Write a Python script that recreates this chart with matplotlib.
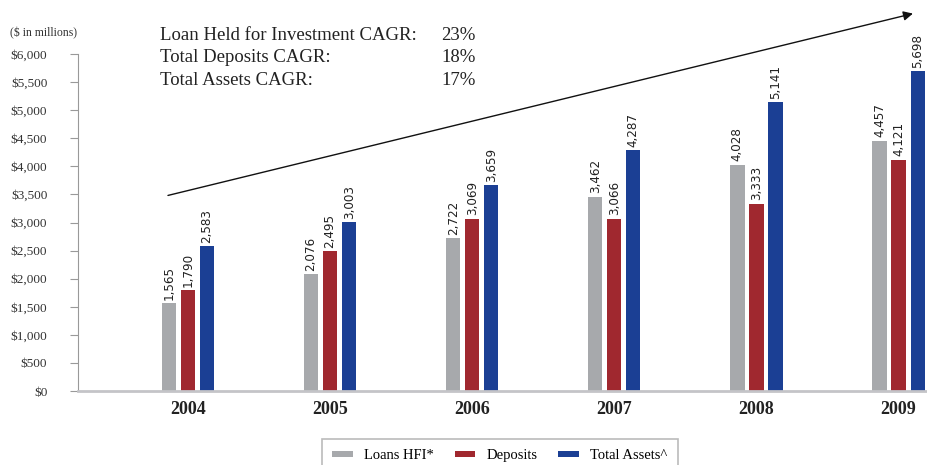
import matplotlib.pyplot as plt
import numpy as np

# Chart data ($ in millions)
years = ["2004", "2005", "2006", "2007", "2008", "2009"]
loans_hfi = [1565, 2076, 2722, 3462, 4028, 4457]
deposits = [1790, 2495, 3069, 3066, 3333, 4121]
total_assets = [2583, 3003, 3659, 4287, 5141, 5698]

cagr_labels = ["Loan Held for Investment CAGR:", "Total Deposits CAGR:", "Total Assets CAGR:"]
cagr_values = ["23%", "18%", "17%"]

series = [
    ("Loans HFI*", loans_hfi, "#a7a9ac"),
    ("Deposits", deposits, "#a0282f"),
    ("Total Assets^", total_assets, "#1b3f94"),
]

serif = ["Liberation Serif", "DejaVu Serif"]

fig = plt.figure(figsize=(9.27, 4.65), dpi=100)
ax = fig.add_axes([0.084, 0.159, 0.916, 0.725])

x = np.arange(len(years))
width = 0.1
offsets = [-0.134, 0, 0.134]

for (name, vals, color), off in zip(series, offsets):
    bars = ax.bar(x + off, vals, width, color=color, label=name, zorder=2)
    for b, v in zip(bars, vals):
        ax.text(b.get_x() + b.get_width() / 2, v + 60, f"{v:,}", rotation=90,
                ha="center", va="bottom", fontsize=9.5, family="DejaVu Sans",
                fontstretch="condensed", color="#222222")

ax.set_xlim(-0.775, 5.2)
ax.set_ylim(0, 6000)
ax.set_yticks(np.arange(0, 6001, 500))
ax.set_yticklabels([f"${v:,}" for v in range(0, 6001, 500)], family=serif,
                   fontsize=9.5, color="#333333")
ax.set_xticks(x)
ax.set_xticklabels(years, family=serif, fontsize=13, fontweight="bold", color="#222222")
ax.tick_params(axis="y", length=6, color="#999999", width=0.8, pad=16)
ax.tick_params(axis="x", length=0, pad=7)

for s in ["top", "right"]:
    ax.spines[s].set_visible(False)
ax.spines["left"].set_color("#999999")
ax.spines["left"].set_linewidth(0.8)
ax.spines["bottom"].set_color("#c4c4c8")
ax.spines["bottom"].set_linewidth(2)

# Growth arrow
ax.annotate("", xy=(5.12, 6730), xytext=(-0.16, 3470), xycoords="data",
            annotation_clip=False,
            arrowprops=dict(arrowstyle="-|>", color="#111111", lw=1.0,
                            mutation_scale=14))

# CAGR text block
for i, (lab, val) in enumerate(zip(cagr_labels, cagr_values)):
    ypos = 1 - (35 + i * 22.5) / 465
    fig.text(160 / 927, ypos, lab, family=serif, fontsize=13.5, color="#222222", va="center")
    fig.text(441 / 927, ypos, val, family=serif, fontsize=13.5, color="#222222", va="center")

fig.text(10 / 927, 1 - 33 / 465, "($ in millions)", family=serif, fontsize=8.5,
         color="#333333", va="center")

leg = fig.legend(loc="upper center", bbox_to_anchor=(500 / 927, 1 - 439 / 465), ncol=3,
                 frameon=True, fancybox=False, edgecolor="#aaaaaa",
                 prop={"family": serif, "size": 10.5}, handlelength=1.4,
                 handleheight=0.3, columnspacing=1.4, borderpad=0.7,
                 borderaxespad=0)
leg.get_frame().set_linewidth(1.2)

fig.savefig("out.png", dpi=100)
